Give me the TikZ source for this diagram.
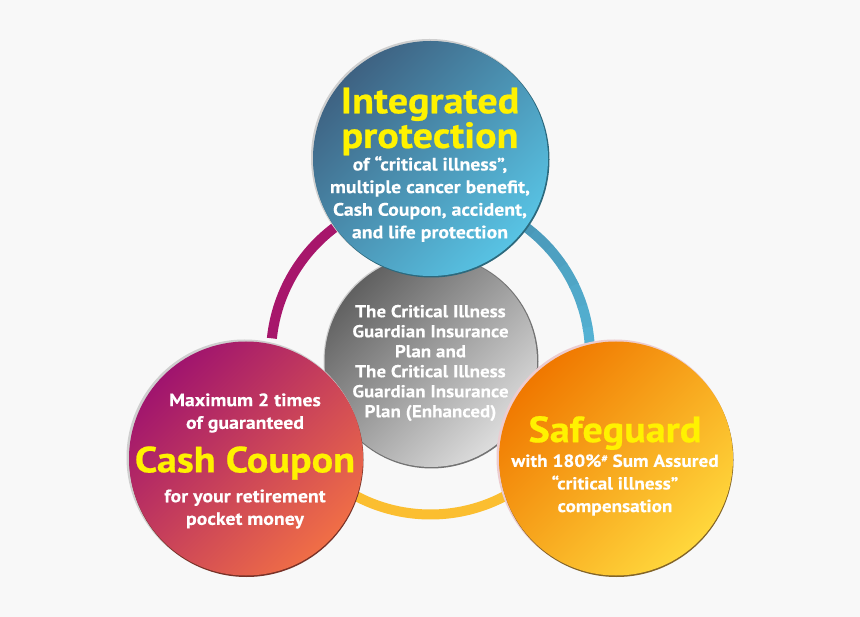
\documentclass[tikz,border=0pt]{standalone}
\usepackage{fontspec}
\setmainfont{PT Sans}
\newfontfamily\headface[FakeStretch=1.1,FakeBold=0.6]{PT Sans Bold}
\newfontfamily\bodyface[FakeStretch=1.1,FakeBold=0.2]{PT Sans Bold}
\definecolor{bgc}{HTML}{F8F8F8}
\definecolor{rimgrey}{HTML}{CFCFCF}
\definecolor{rimpink}{RGB}{236,204,208}
\definecolor{headyellow}{HTML}{FFF200}
\definecolor{magring}{RGB}{167,22,107}
\definecolor{blueA}{RGB}{74,152,184}
\definecolor{blueB}{RGB}{85,180,214}
\definecolor{yelring}{RGB}{251,190,48}
\tikzset{
  ball/.style n args={3}{circle,inner sep=0pt,minimum size=#1,top color=#2,bottom color=#3,shading angle=45},
  rim/.style 2 args={circle,inner sep=0pt,minimum size=#1,fill=#2},
  ringarc/.style={line width=10pt,line cap=butt},
  headline/.style={text=headyellow,inner sep=0pt,font=\headface\fontsize{36.5}{27}\selectfont,align=center},
  bodytext/.style={text=white,inner sep=0pt,font=\bodyface\fontsize{18}{22.6}\selectfont,align=center},
  coretext/.style={text=white,inner sep=0pt,font=\bodyface\fontsize{17.3}{20}\selectfont,align=center},
}
\begin{document}
\begin{tikzpicture}[x=1pt,y=-1pt]
\fill[bgc] (0,0) rectangle (860,617);
\useasboundingbox (0,0) rectangle (860,617);
% ring arcs
\coordinate (ringc) at (430.5,355);
\draw[ringarc,draw=magring] (ringc) ++(-174:159.5) arc[start angle=-174,end angle=-122,radius=159.5];
\foreach \a/\m in {-58/0,-50/15,-42/30,-34/45,-26/60,-18/75,-10/90}{
  \draw[ringarc,draw=blueB!\m!blueA] (ringc) ++(\a:159.5) arc[start angle=\a,end angle=\a+8.3,radius=159.5];
}
\draw[ringarc,draw=yelring] (ringc) ++(130:159.5) arc[start angle=130,end angle=50,radius=159.5];
% centre
\node[rim={214pt}{rimgrey}] at (430.5,360.5) {};
\node[rim={214pt}{black!55}] at (431.5,361.5) {};
\node[ball={212pt}{black!62}{black!13}] (core) at (431,361) {};
\node[coretext] (coretxt) at (430.5,363) {The Critical Illness\\Guardian Insurance\\Plan and\\The Critical Illness\\Guardian Insurance\\Plan (Enhanced)};
% top
\node[rim={237pt}{rimgrey}] at (429.5,157.5) {};
\node[rim={236pt}{{rgb,255:red,44;green,105;blue,125}}] at (431.5,159.5) {};
\node[ball={235pt}{{rgb,255:red,62;green,98;blue,130}}{{rgb,255:red,88;green,195;blue,228}}] (top) at (430.5,158.5) {};
\node[headline] (toph) at (430,121.5) {Integrated\\protection};
\node[bodytext] (topt) at (430,199) {of “critical illness”,\\multiple cancer benefit,\\Cash Coupon, accident,\\and life protection};
% left
\node[rim={236pt}{rimgrey}] at (244.5,457.5) {};
\node[rim={234pt}{{rgb,255:red,120;green,50;blue,40}}] at (246.5,460) {};
\node[ball={234pt}{{rgb,255:red,160;green,20;blue,110}}{{rgb,255:red,240;green,110;blue,70}}] (left) at (246,458.5) {};
\node[bodytext] (lefta) at (245,413) {Maximum 2 times\\of guaranteed};
\node[headline] (lefth) at (245,463) {Cash Coupon};
\node[bodytext] (leftb) at (245,509) {for your retirement\\pocket money};
% right
\node[rim={236pt}{rimpink}] at (614.5,457.5) {};
\node[rim={234pt}{{rgb,255:red,130;green,100;blue,40}}] at (616.5,460) {};
\node[ball={234pt}{{rgb,255:red,240;green,120;blue,0}}{{rgb,255:red,255;green,215;blue,60}}] (right) at (616,458.5) {};
\node[headline] (righth) at (615,433) {Safeguard};
\node[bodytext,font=\bodyface\fontsize{17.5}{22.6}\selectfont] (rightt) at (615,485) {with 180\%\raisebox{5pt}{\fontsize{10}{10}\selectfont\#} Sum Assured\\“critical illness”\\compensation};
\end{tikzpicture}
\end{document}
